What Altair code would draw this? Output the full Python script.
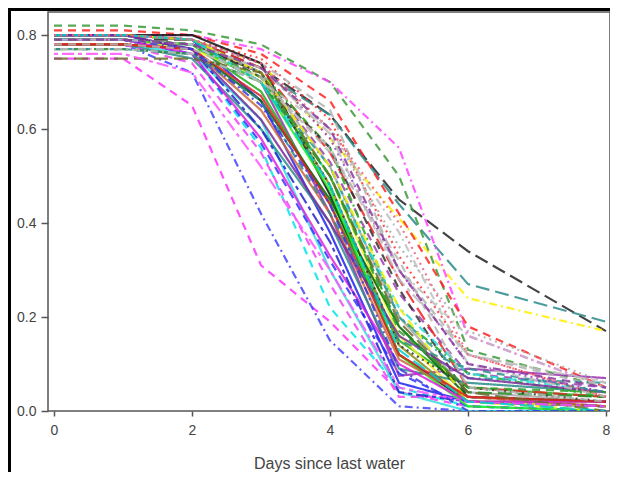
import altair as alt
import pandas as pd

days = [0, 1, 2, 3, 4, 5, 6, 8]

series_colors = [
    "#FF33FF", "#4444FF", "#222222", "#2E8B8B", "#FFEE00", "#3C9A3C", "#FF44FF", "#FF2222",
    "#9A2FB0", "#AAAAAA", "#FF3333", "#B0B0B0", "#111111", "#2222EE", "#22AA22", "#00E5E5",
    "#33DDDD", "#EEEE22", "#8B8B1A", "#2E8B8B", "#EE44EE", "#9A3FB0", "#EE2222", "#22AA22",
    "#A8A8A8", "#333333", "#006400", "#3333FF", "#22EE22", "#9932CC", "#2E9B9B", "#CD6839",
    "#22DDDD", "#EEEE00", "#DD22DD", "#BBBBBB", "#DD2222", "#228B22", "#2222CC", "#333333",
    "#6B6B2A", "#7B2B9B", "#2E8B8B", "#BDBDBD", "#FF55FF", "#00CCCC", "#2FA02F", "#3A3AE0",
    "#C0C0C0", "#B5B5B5", "#F06080", "#8A3AA0",
]

solid = [1, 0]
dash = [8, 6]
longdash = [14, 6]
dot = [2, 4]
dotdash = [2, 4, 8, 4]
twodash = [4, 4, 12, 4]

series_dashes = [
    dash, dotdash, longdash, longdash, dotdash, dash, dotdash, dash,
    solid, dot, dot, dash, solid, solid, solid, dash,
    solid, solid, solid, solid, dash, dash, longdash, dotdash,
    solid, dash, solid, dash, solid, dot, dotdash, solid,
    dotdash, dash, solid, twodash, solid, longdash, twodash, dot,
    longdash, solid, dash, dotdash, twodash, longdash, dash, dotdash,
    dotdash, dash, dot, dash,
]

series_values = [
    [0.75, 0.75, 0.65, 0.31, 0.19, 0.04, 0.01, 0.00],
    [0.78, 0.78, 0.72, 0.42, 0.15, 0.01, 0.00, 0.00],
    [0.79, 0.79, 0.79, 0.73, 0.63, 0.45, 0.34, 0.17],
    [0.78, 0.78, 0.78, 0.72, 0.63, 0.44, 0.27, 0.19],
    [0.80, 0.80, 0.79, 0.74, 0.58, 0.41, 0.24, 0.17],
    [0.82, 0.82, 0.81, 0.78, 0.70, 0.50, 0.13, 0.05],
    [0.80, 0.80, 0.80, 0.77, 0.70, 0.56, 0.16, 0.05],
    [0.81, 0.81, 0.80, 0.76, 0.66, 0.42, 0.18, 0.05],
    [0.79, 0.79, 0.78, 0.70, 0.42, 0.075, 0.09, 0.07],
    [0.78, 0.78, 0.77, 0.73, 0.60, 0.35, 0.17, 0.06],
    [0.80, 0.80, 0.79, 0.75, 0.62, 0.33, 0.12, 0.03],
    [0.80, 0.80, 0.79, 0.74, 0.64, 0.30, 0.12, 0.05],
    [0.80, 0.80, 0.80, 0.74, 0.46, 0.12, 0.02, 0.01],
    [0.80, 0.80, 0.79, 0.66, 0.38, 0.06, 0.02, 0.01],
    [0.79, 0.79, 0.78, 0.68, 0.44, 0.15, 0.05, 0.03],
    [0.79, 0.79, 0.76, 0.56, 0.22, 0.05, 0.01, 0.00],
    [0.78, 0.78, 0.76, 0.62, 0.30, 0.04, 0.00, 0.00],
    [0.79, 0.79, 0.77, 0.71, 0.50, 0.16, 0.02, 0.01],
    [0.79, 0.79, 0.78, 0.72, 0.48, 0.14, 0.02, 0.02],
    [0.78, 0.78, 0.75, 0.60, 0.40, 0.09, 0.06, 0.04],
    [0.78, 0.78, 0.74, 0.55, 0.27, 0.03, 0.03, 0.02],
    [0.79, 0.79, 0.78, 0.72, 0.53, 0.25, 0.08, 0.05],
    [0.80, 0.80, 0.79, 0.73, 0.55, 0.28, 0.05, 0.03],
    [0.80, 0.80, 0.79, 0.72, 0.56, 0.20, 0.08, 0.03],
    [0.80, 0.80, 0.79, 0.72, 0.52, 0.20, 0.04, 0.02],
    [0.80, 0.80, 0.79, 0.71, 0.56, 0.26, 0.03, 0.01],
    [0.78, 0.78, 0.77, 0.66, 0.45, 0.18, 0.03, 0.02],
    [0.79, 0.79, 0.76, 0.57, 0.32, 0.08, 0.01, 0.00],
    [0.79, 0.79, 0.78, 0.70, 0.47, 0.12, 0.01, 0.00],
    [0.80, 0.80, 0.79, 0.74, 0.58, 0.30, 0.10, 0.04],
    [0.79, 0.79, 0.78, 0.70, 0.52, 0.20, 0.07, 0.06],
    [0.78, 0.78, 0.77, 0.64, 0.42, 0.11, 0.03, 0.01],
    [0.79, 0.79, 0.78, 0.70, 0.50, 0.22, 0.08, 0.04],
    [0.80, 0.80, 0.79, 0.72, 0.52, 0.22, 0.02, 0.00],
    [0.79, 0.79, 0.76, 0.58, 0.33, 0.10, 0.02, 0.02],
    [0.79, 0.79, 0.78, 0.73, 0.59, 0.28, 0.12, 0.06],
    [0.78, 0.78, 0.77, 0.67, 0.44, 0.12, 0.03, 0.02],
    [0.77, 0.77, 0.76, 0.70, 0.50, 0.18, 0.04, 0.03],
    [0.80, 0.80, 0.77, 0.60, 0.36, 0.04, 0.02, 0.01],
    [0.79, 0.79, 0.78, 0.72, 0.48, 0.14, 0.05, 0.02],
    [0.75, 0.75, 0.75, 0.72, 0.50, 0.19, 0.04, 0.00],
    [0.80, 0.80, 0.77, 0.62, 0.40, 0.16, 0.07, 0.04],
    [0.77, 0.77, 0.76, 0.66, 0.42, 0.15, 0.09, 0.04],
    [0.77, 0.77, 0.76, 0.70, 0.56, 0.30, 0.16, 0.05],
    [0.76, 0.76, 0.72, 0.52, 0.30, 0.05, 0.02, 0.01],
    [0.80, 0.80, 0.79, 0.70, 0.48, 0.13, 0.02, 0.00],
    [0.79, 0.79, 0.78, 0.71, 0.50, 0.17, 0.05, 0.04],
    [0.79, 0.79, 0.77, 0.65, 0.44, 0.09, 0.00, 0.00],
    [0.79, 0.79, 0.78, 0.70, 0.60, 0.38, 0.10, 0.03],
    [0.78, 0.78, 0.77, 0.71, 0.55, 0.32, 0.05, 0.02],
    [0.80, 0.80, 0.79, 0.74, 0.60, 0.40, 0.12, 0.03],
    [0.79, 0.79, 0.78, 0.73, 0.60, 0.30, 0.10, 0.05],
]

series_names = [f"s{i:02d}" for i in range(1, len(series_values) + 1)]

x_ticks = [0, 2, 4, 6, 8]
y_ticks = [0.0, 0.2, 0.4, 0.6, 0.8]

rows = []
for name, vals in zip(series_names, series_values):
    for d, v in zip(days, vals):
        rows.append({"series": name, "day": d, "value": v})
df = pd.DataFrame(rows)

lines = alt.Chart(df).mark_line(strokeWidth=2.2, opacity=0.85, clip=True).encode(
    x=alt.X("day:Q", scale=alt.Scale(domain=[-0.087, 8.058], nice=False, zero=False),
            axis=alt.Axis(values=x_ticks, title="Days since last water", grid=False,
                          domain=False, tickSize=5, labelPadding=7, titlePadding=18)),
    y=alt.Y("value:Q", scale=alt.Scale(domain=[0, 0.849], nice=False),
            axis=alt.Axis(values=y_ticks, format=".1f", title=None, grid=False,
                          domain=False, tickSize=7, labelPadding=5)),
    color=alt.Color("series:N", scale=alt.Scale(domain=series_names, range=series_colors), legend=None),
    strokeDash=alt.StrokeDash("series:N", scale=alt.Scale(domain=series_names, range=series_dashes), legend=None),
    detail="series:N",
)

left_border = alt.Chart(df).mark_rule(color="black", strokeWidth=3).encode(
    x=alt.value(-38.5), y=alt.value(-4), y2=alt.value(470)
)
top_border = alt.Chart(df).mark_rule(color="black", strokeWidth=3).encode(
    x=alt.value(-40), x2=alt.value(570), y=alt.value(-2.5)
)

chart = alt.layer(lines, left_border, top_border).properties(
    width=562, height=399,
    padding={"left": 40, "top": 4, "right": 0, "bottom": 61},
    autosize=alt.AutoSizeParams(type="none"),
).configure_view(
    stroke="#555555", strokeWidth=1.5
).configure_axis(
    labelFont="Liberation Sans", titleFont="Liberation Sans",
    labelFontSize=14, titleFontSize=16, labelColor="#444444", titleColor="#444444",
    titleFontWeight="normal", tickColor="#555555", tickWidth=1.5,
)

chart.save("out.html", embed_options={"renderer": "svg", "actions": False})
